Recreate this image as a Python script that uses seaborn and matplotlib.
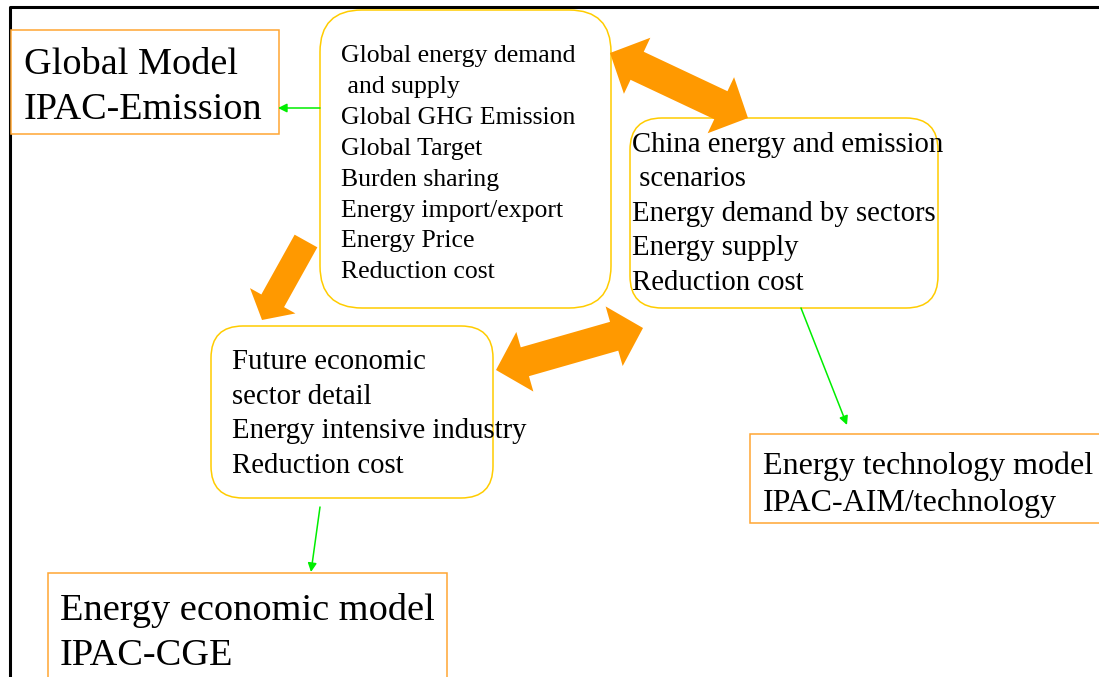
import numpy as np
import matplotlib.pyplot as plt
from matplotlib.patches import FancyBboxPatch, Rectangle, Polygon
import seaborn as sns

# text of each block in the diagram
global_model_lines = ["Global Model", "IPAC-Emission"]
global_detail_lines = ["Global energy demand", " and supply", "Global GHG Emission",
                       "Global Target", "Burden sharing", "Energy import/export",
                       "Energy Price", "Reduction cost"]
china_lines = ["China energy and emission", " scenarios", "Energy demand by sectors",
               "Energy supply", "Reduction cost"]
economy_lines = ["Future economic", "sector detail", "Energy intensive industry",
                 "Reduction cost"]
tech_model_lines = ["Energy technology model", "IPAC-AIM/technology"]
cge_model_lines = ["Energy economic model", "IPAC-CGE"]

W, H = 1099, 677
RECT_COLOR = "#FFA633"
ROUND_COLOR = "#FFCC00"
BIG_ARROW = "#FF9900"
LINK_COLOR = "#00EE00"

# layout in pixel units: box (x, y, w, h), corner radius, text x, first baseline, step, size
blocks = [
    (global_model_lines, (11, 30, 268, 104), None, 24, 74, 45, 27.5),
    (global_detail_lines, (320, 10, 291, 298), 42, 341, 62, 30.9, 18.5),
    (china_lines, (630, 118, 308, 190), 32, 632, 152, 34.4, 20.7),
    (economy_lines, (211, 326, 282, 172), 32, 232, 369, 34.7, 20.7),
    (tech_model_lines, (750, 434, 420, 89), None, 763, 474, 37, 23),
    (cge_model_lines, (48, 573, 399, 200), None, 60, 620, 45, 27.6),
]


def block_arrow(p0, p1, shaft, head_w, head_l, both=True):
    """Solid block arrow polygon from p0 to p1 (head at p1, optionally at p0 too)."""
    p0, p1 = np.asarray(p0, float), np.asarray(p1, float)
    u = (p1 - p0) / np.linalg.norm(p1 - p0)
    n = np.array([-u[1], u[0]])
    b1 = p1 - u * head_l
    b0 = p0 + u * head_l if both else p0
    pts = [b0 + n * shaft / 2, b1 + n * shaft / 2, b1 + n * head_w / 2, p1,
           b1 - n * head_w / 2, b1 - n * shaft / 2, b0 - n * shaft / 2]
    if both:
        pts += [b0 - n * head_w / 2, p0, b0 + n * head_w / 2]
    return Polygon(pts, closed=True, facecolor=BIG_ARROW, edgecolor="none", zorder=4)


sns.set_theme(style="white")
plt.rcParams["font.family"] = ["Liberation Serif", "DejaVu Serif"]

fig = plt.figure(figsize=(W / 100, H / 100), dpi=100)
ax = fig.add_axes([0, 0, 1, 1])
ax.set_xlim(0, W)
ax.set_ylim(H, 0)
ax.axis("off")

# page frame
ax.plot([10, 10, W], [H, 7, 7], color="black", lw=2.2, solid_capstyle="butt", zorder=1)

for lines, (x, y, w, h), radius, tx, ty, step, size in blocks:
    if radius is None:
        patch = Rectangle((x, y), w, h, facecolor="white", edgecolor=RECT_COLOR, lw=1.1, zorder=2)
    else:
        patch = FancyBboxPatch((x, y), w, h, boxstyle=f"round,pad=0,rounding_size={radius}",
                               facecolor="white", edgecolor=ROUND_COLOR, lw=1.1, zorder=2)
    ax.add_patch(patch)
    for i, line in enumerate(lines):
        ax.text(tx, ty + i * step, line, fontsize=size, va="baseline", ha="left",
                color="black", zorder=3)

# big orange arrows
ax.add_patch(block_arrow((610, 53), (748, 118), 31, 62, 30))
ax.add_patch(block_arrow((306, 241), (262, 320), 26, 52, 22, both=False))
ax.add_patch(block_arrow((496, 370), (643, 328), 30, 62, 30))

# thin green links
links = [((320, 108), (278, 108)), ((801, 308), (847, 425)), ((320, 507), (311, 572))]
for start, end in links:
    ax.annotate("", xy=end, xytext=start,
                arrowprops=dict(arrowstyle="-|>", color=LINK_COLOR, lw=1.1,
                                mutation_scale=13, shrinkA=0, shrinkB=0), zorder=5)

fig.savefig("out.png", dpi=100)
